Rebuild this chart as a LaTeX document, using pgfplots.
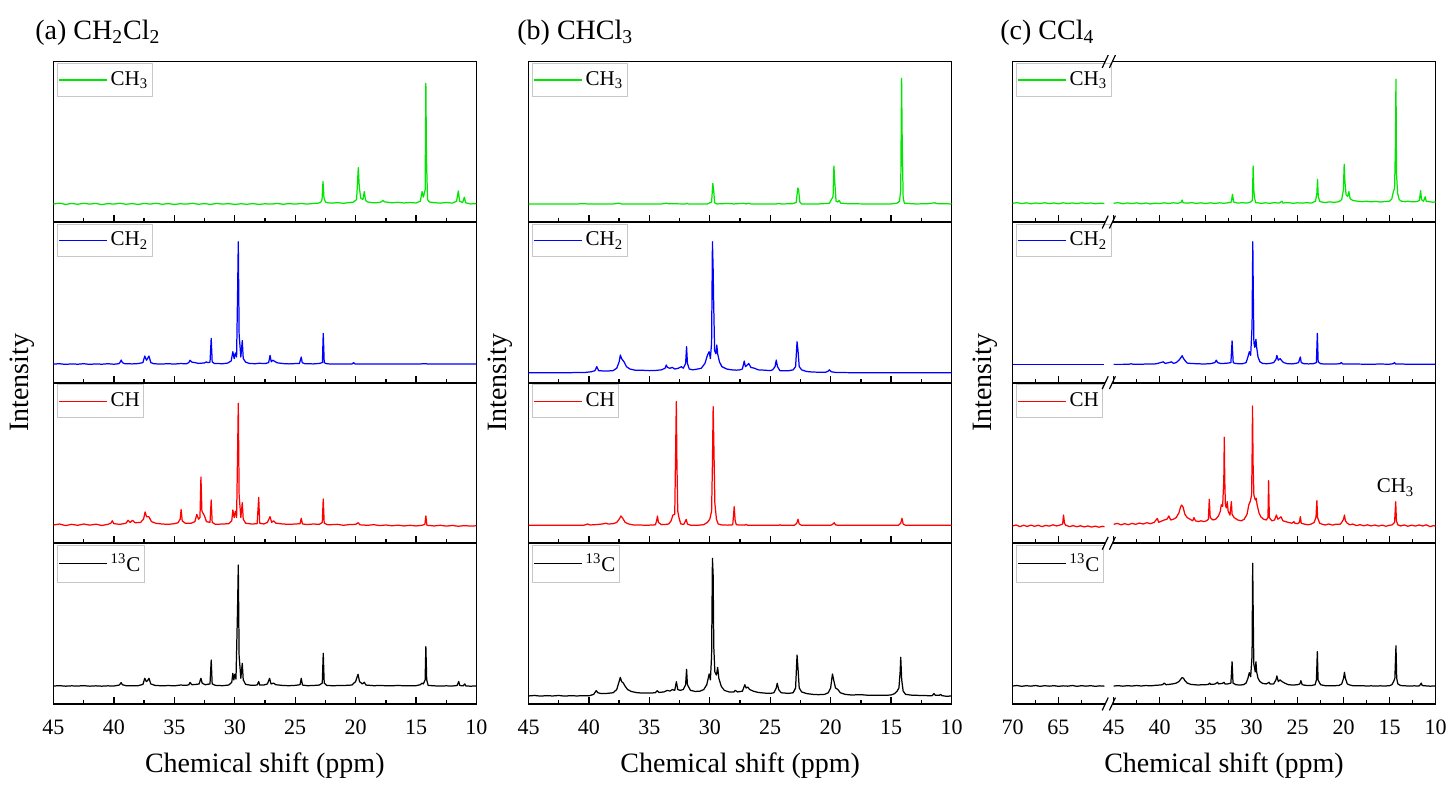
\documentclass[border=0pt]{standalone}
\usepackage{fontspec}
\setmainfont{Liberation Serif}
\usepackage{pgfplots}
\pgfplotsset{compat=1.18}
\definecolor{cgreen}{RGB}{0,230,0}
\definecolor{cblue}{RGB}{0,0,255}
\definecolor{cred}{RGB}{255,0,0}
\pgfplotsset{
  spec/.style={
    scale only axis, width=211.5pt, height=80.3pt, anchor=south west,
    xmin=10, xmax=45, x dir=reverse, ymin=0, ymax=1,
    ytick=\empty,
    axis line style={line width=0.9pt},
    xtick={10,15,20,25,30,35,40,45}, minor xtick={12.5,17.5,22.5,27.5,32.5,37.5,42.5},
    xtick pos=left, tick align=inside,
    major tick length=3.5pt, minor tick length=2pt,
    every tick/.style={black, line width=0.7pt},
    xticklabels={},
    legend style={at={(0,1)}, anchor=north west, xshift=1.75pt, yshift=-0.75pt,
      draw=black!22, line width=0.5pt, inner xsep=0.5pt, inner ysep=1.5pt,
      font=\fontsize{10.5}{12}\selectfont, nodes={inner xsep=1.5pt, inner ysep=2.5pt}},
    legend image code/.code={\draw[#1, line width=0.6pt] (0pt,0pt) -- (24pt,0pt);},
    every axis plot/.append style={line width=0.62pt, line join=round, mark=none},
  },
  specc/.style={spec, xmin=10, xmax=56,
    xtick={10,15,20,25,30,35,40,45,51,56},
    minor xtick={12.5,17.5,22.5,27.5,32.5,37.5,42.5,48.5,53.5}},
  bot/.style={xticklabels={10,15,20,25,30,35,40,45},
    xticklabel style={font=\fontsize{11}{13}\selectfont, yshift=-4.5pt}},
  botc/.style={xticklabels={10,15,20,25,30,35,40,45,65,70},
    xticklabel style={font=\fontsize{11}{13}\selectfont, yshift=-4.5pt}},
}
\begin{document}
\begin{tikzpicture}
\useasboundingbox (0,0) rectangle (725pt,392.5pt);
% ================= Panel (a) =================
\begin{axis}[spec, at={(26.75pt,281.45pt)}]
\addplot[cgreen] coordinates {(45,0.113)(44.5,0.118)(44,0.110)(43.5,0.116)(43,0.111)(42.5,0.117)(42,0.112)(41.5,0.116)(41,0.109)(40.5,0.115)(40,0.112)(39.5,0.117)(39,0.111)(38.5,0.115)(38,0.110)(37.5,0.116)(37,0.112)(36.5,0.117)(36,0.111)(35.5,0.115)(35,0.110)(34.5,0.114)(34,0.112)(33.5,0.117)(33,0.111)(32.5,0.115)(32,0.110)(31.5,0.116)(31,0.112)(30.5,0.115)(30,0.110)(29.5,0.114)(29,0.111)(28.5,0.115)(28,0.110)(27.5,0.114)(27,0.112)(26.5,0.116)(26,0.111)(25.5,0.115)(25,0.112)(24.5,0.116)(24,0.112)(23.5,0.116)(23.1,0.118)(22.9,0.122)(22.78,0.14)(22.7,0.252)(22.62,0.15)(22.5,0.125)(22.3,0.12)(22,0.118)(21.5,0.121)(21,0.117)(20.5,0.122)(20.2,0.124)(19.92,0.14)(19.78,0.339)(19.7,0.22)(19.58,0.15)(19.4,0.14)(19.28,0.19)(19.18,0.135)(19.0,0.125)(18.5,0.12)(18.0,0.122)(17.85,0.128)(17.75,0.135)(17.6,0.126)(17.0,0.12)(16.5,0.123)(16,0.119)(15.5,0.122)(15,0.119)(14.65,0.13)(14.5,0.19)(14.4,0.155)(14.25,0.2)(14.19,0.864)(14.14,0.4)(14.05,0.14)(13.9,0.125)(13.5,0.121)(13,0.118)(12.5,0.122)(12,0.118)(11.65,0.13)(11.5,0.194)(11.4,0.13)(11.15,0.122)(11.0,0.155)(10.9,0.12)(10.5,0.113)(10,0.115)};
\addlegendentry{CH\textsubscript{3}}
\end{axis}
\begin{axis}[spec, at={(26.75pt,201.15pt)}]
\addplot[cblue] coordinates {(45,0.116)(44.5,0.118)(44,0.114)(43.5,0.117)(43,0.115)(42.5,0.118)(42,0.114)(41.5,0.117)(41,0.115)(40.5,0.118)(40,0.115)(39.6,0.118)(39.48,0.128)(39.4,0.141)(39.3,0.125)(39.1,0.118)(38.5,0.117)(38,0.119)(37.6,0.125)(37.45,0.166)(37.3,0.14)(37.22,0.15)(37.1,0.166)(36.95,0.125)(36.7,0.118)(36.2,0.116)(35.5,0.118)(35,0.116)(34.5,0.119)(34,0.118)(33.8,0.125)(33.7,0.14)(33.55,0.128)(33.3,0.125)(33,0.12)(32.5,0.123)(32.35,0.13)(32.25,0.125)(32.05,0.127)(31.95,0.276)(31.87,0.13)(31.7,0.12)(31,0.118)(30.6,0.122)(30.3,0.135)(30.16,0.193)(30.05,0.15)(29.95,0.185)(29.85,0.16)(29.76,0.598)(29.71,0.878)(29.64,0.3)(29.5,0.16)(29.38,0.262)(29.3,0.15)(29.1,0.128)(28.8,0.12)(28.3,0.118)(28,0.121)(27.5,0.119)(27.2,0.125)(27.08,0.17)(26.98,0.13)(26.85,0.14)(26.75,0.135)(26.5,0.124)(26,0.119)(25.5,0.117)(25,0.119)(24.65,0.12)(24.5,0.16)(24.42,0.125)(24.2,0.118)(23.5,0.117)(23,0.12)(22.75,0.125)(22.68,0.307)(22.6,0.125)(22.4,0.118)(22,0.116)(21,0.117)(20.3,0.116)(20.17,0.125)(20.05,0.117)(19,0.116)(18,0.117)(17,0.116)(16,0.117)(15,0.116)(14.2,0.118)(14,0.116)(13,0.117)(12,0.116)(11,0.117)(10,0.116)};
\addlegendentry{CH\textsubscript{2}}
\end{axis}
\begin{axis}[spec, at={(26.75pt,120.85pt)}]
\addplot[cred] coordinates {(45,0.114)(44.5,0.12)(44,0.11)(43.5,0.118)(43,0.112)(42.5,0.12)(42,0.113)(41.5,0.119)(41,0.111)(40.5,0.118)(40.25,0.125)(40.14,0.14)(40.0,0.122)(39.5,0.118)(39,0.125)(38.83,0.143)(38.65,0.13)(38.47,0.143)(38.25,0.128)(37.8,0.13)(37.55,0.15)(37.42,0.195)(37.3,0.165)(37.11,0.166)(36.9,0.135)(36.5,0.124)(36,0.12)(35.5,0.118)(35,0.122)(34.7,0.128)(34.52,0.15)(34.44,0.21)(34.35,0.14)(34.1,0.125)(33.6,0.125)(33.3,0.135)(33.14,0.18)(33.0,0.15)(32.88,0.16)(32.8,0.413)(32.72,0.2)(32.5,0.17)(32.35,0.135)(32.05,0.13)(31.95,0.27)(31.87,0.13)(31.6,0.118)(31,0.12)(30.5,0.122)(30.25,0.14)(30.16,0.207)(30.05,0.16)(29.95,0.2)(29.85,0.16)(29.76,0.6)(29.71,0.872)(29.64,0.3)(29.5,0.16)(29.38,0.253)(29.3,0.15)(29.1,0.125)(28.6,0.12)(28.15,0.122)(28.02,0.286)(27.94,0.125)(27.6,0.12)(27.3,0.13)(27.08,0.166)(26.95,0.13)(26.8,0.14)(26.6,0.125)(26,0.12)(25.5,0.118)(25,0.12)(24.6,0.122)(24.5,0.156)(24.4,0.12)(24,0.117)(23.5,0.12)(23,0.118)(22.76,0.13)(22.68,0.276)(22.6,0.125)(22.3,0.115)(21.5,0.118)(21,0.112)(20.5,0.117)(20,0.118)(19.78,0.128)(19.65,0.115)(19,0.112)(18.5,0.116)(18,0.11)(17.5,0.114)(17,0.109)(16.5,0.113)(16,0.108)(15.5,0.112)(15,0.108)(14.5,0.112)(14.27,0.118)(14.19,0.17)(14.1,0.112)(13.5,0.108)(13,0.112)(12.5,0.107)(12,0.111)(11.5,0.106)(11,0.11)(10.5,0.107)(10,0.109)};
\addlegendentry{CH}
\end{axis}
\begin{axis}[spec, bot, at={(26.75pt,40.5pt)}]
\addplot[black] coordinates {(45,0.112)(44.5,0.114)(44,0.111)(43.5,0.113)(43,0.112)(42.5,0.114)(42,0.111)(41.5,0.113)(41,0.111)(40.5,0.113)(40,0.112)(39.55,0.118)(39.4,0.133)(39.3,0.12)(39,0.114)(38.5,0.113)(38,0.114)(37.6,0.122)(37.45,0.16)(37.32,0.14)(37.22,0.145)(37.1,0.16)(36.95,0.125)(36.6,0.116)(36,0.113)(35.5,0.115)(35,0.113)(34.5,0.118)(34,0.116)(33.8,0.12)(33.7,0.134)(33.55,0.12)(33.2,0.122)(32.95,0.125)(32.8,0.16)(32.7,0.13)(32.45,0.12)(32.05,0.125)(31.95,0.274)(31.87,0.125)(31.6,0.116)(31,0.114)(30.5,0.118)(30.25,0.135)(30.16,0.191)(30.08,0.15)(30.0,0.185)(29.9,0.155)(29.77,0.596)(29.71,0.866)(29.64,0.3)(29.5,0.16)(29.38,0.253)(29.3,0.15)(29.1,0.122)(28.6,0.116)(28.15,0.118)(28.02,0.14)(27.94,0.118)(27.6,0.118)(27.3,0.125)(27.12,0.16)(27.0,0.125)(26.8,0.13)(26.6,0.12)(26,0.115)(25.5,0.114)(25,0.116)(24.6,0.12)(24.5,0.16)(24.4,0.118)(24,0.114)(23.5,0.115)(23,0.118)(22.76,0.13)(22.68,0.316)(22.6,0.13)(22.4,0.116)(22,0.114)(21,0.115)(20.3,0.118)(20.0,0.14)(19.8,0.185)(19.68,0.14)(19.45,0.125)(19.28,0.135)(19.15,0.118)(18.5,0.114)(18,0.115)(17,0.113)(16.5,0.116)(16,0.113)(15,0.114)(14.65,0.12)(14.5,0.13)(14.4,0.125)(14.25,0.15)(14.19,0.357)(14.12,0.15)(14.0,0.116)(13.5,0.113)(13,0.112)(12.5,0.113)(12,0.112)(11.6,0.115)(11.47,0.14)(11.38,0.115)(11.1,0.113)(10.97,0.125)(10.88,0.112)(10.5,0.111)(10,0.112)};
\addlegendentry{\textsuperscript{13}C}
\end{axis}
% ================= Panel (b) =================
\begin{axis}[spec, at={(264.25pt,281.45pt)}]
\addplot[cgreen] coordinates {(45,0.113)(41,0.113)(40.5,0.114)(40,0.113)(38,0.113)(37.5,0.118)(37.3,0.113)(36,0.113)(34,0.113)(33.6,0.118)(33.4,0.114)(32,0.113)(31.9,0.118)(31.8,0.113)(30.2,0.113)(29.85,0.125)(29.75,0.241)(29.68,0.2)(29.6,0.12)(29.4,0.113)(28.5,0.116)(28,0.113)(27.2,0.117)(27,0.113)(26.8,0.117)(26.6,0.113)(24.5,0.113)(24.3,0.116)(24.1,0.113)(23.2,0.114)(22.85,0.122)(22.72,0.212)(22.65,0.2)(22.55,0.125)(22.4,0.113)(21,0.113)(20.1,0.117)(19.8,0.16)(19.73,0.349)(19.66,0.25)(19.55,0.13)(19.4,0.125)(19.3,0.135)(19.18,0.118)(18.5,0.114)(17,0.113)(15,0.113)(14.5,0.118)(14.3,0.13)(14.2,0.2)(14.13,0.895)(14.08,0.5)(14.0,0.15)(13.9,0.118)(13.6,0.116)(13,0.113)(12,0.114)(11.4,0.12)(11.2,0.115)(10,0.113)};
\addlegendentry{CH\textsubscript{3}}
\end{axis}
\begin{axis}[spec, at={(264.25pt,201.15pt)}]
\addplot[cblue] coordinates {(45,0.062)(42,0.062)(41,0.063)(40.3,0.064)(39.8,0.068)(39.5,0.075)(39.35,0.1)(39.2,0.075)(38.6,0.072)(38,0.075)(37.7,0.09)(37.5,0.13)(37.4,0.172)(37.3,0.15)(37.2,0.14)(37.1,0.13)(36.9,0.1)(36.6,0.085)(36.2,0.078)(35.5,0.077)(35,0.075)(34.5,0.076)(34,0.08)(33.7,0.09)(33.6,0.11)(33.5,0.095)(33.3,0.09)(33.1,0.095)(32.9,0.085)(32.6,0.09)(32.35,0.1)(32.2,0.09)(32.0,0.12)(31.92,0.224)(31.85,0.12)(31.7,0.085)(31.4,0.08)(31,0.085)(30.7,0.09)(30.4,0.12)(30.2,0.17)(30.05,0.193)(29.95,0.15)(29.85,0.25)(29.78,0.878)(29.72,0.7)(29.68,0.5)(29.6,0.2)(29.5,0.18)(29.42,0.235)(29.35,0.18)(29.2,0.13)(29,0.1)(28.6,0.085)(28.2,0.08)(27.8,0.078)(27.5,0.08)(27.3,0.085)(27.15,0.135)(27.05,0.1)(26.9,0.11)(26.78,0.12)(26.6,0.095)(26.3,0.09)(26,0.08)(25.5,0.078)(25,0.075)(24.8,0.08)(24.6,0.1)(24.5,0.141)(24.4,0.1)(24.2,0.075)(23.5,0.074)(23.1,0.08)(22.9,0.1)(22.78,0.255)(22.7,0.2)(22.6,0.1)(22.4,0.08)(22,0.07)(21.5,0.066)(20.4,0.065)(20.2,0.072)(20.1,0.08)(19.95,0.068)(19.5,0.063)(17,0.062)(14,0.062)(10,0.062)};
\addlegendentry{CH\textsubscript{2}}
\end{axis}
\begin{axis}[spec, at={(264.25pt,120.85pt)}]
\addplot[cred] coordinates {(45,0.112)(41,0.112)(40.4,0.113)(40.1,0.12)(39.9,0.114)(39.3,0.117)(38.9,0.12)(38.6,0.125)(38.4,0.12)(38,0.122)(37.7,0.13)(37.5,0.15)(37.35,0.17)(37.2,0.155)(37.0,0.13)(36.7,0.12)(36.3,0.114)(35.5,0.113)(35,0.113)(34.5,0.115)(34.4,0.14)(34.33,0.17)(34.25,0.13)(34.0,0.116)(33.6,0.118)(33.4,0.12)(33.2,0.14)(33.05,0.176)(32.9,0.18)(32.82,0.6)(32.77,0.882)(32.72,0.5)(32.65,0.2)(32.55,0.16)(32.4,0.12)(32.15,0.118)(31.95,0.149)(31.85,0.12)(31.6,0.113)(31,0.112)(30.5,0.116)(30.2,0.13)(30.0,0.15)(29.85,0.2)(29.78,0.5)(29.72,0.851)(29.66,0.6)(29.58,0.25)(29.45,0.15)(29.3,0.12)(29,0.114)(28.5,0.113)(28.1,0.115)(27.98,0.228)(27.9,0.14)(27.8,0.115)(27.1,0.113)(27.0,0.118)(26.9,0.113)(25,0.112)(24.3,0.112)(24.2,0.115)(24.1,0.112)(23,0.112)(22.8,0.125)(22.7,0.15)(22.6,0.12)(22.4,0.112)(20,0.112)(19.8,0.12)(19.7,0.128)(19.6,0.115)(19.4,0.112)(14.4,0.112)(14.2,0.125)(14.1,0.156)(14.0,0.12)(13.8,0.112)(10,0.112)};
\addlegendentry{CH}
\end{axis}
\begin{axis}[spec, bot, at={(264.25pt,40.5pt)}]
\addplot[black] coordinates {(45,0.05)(44.5,0.053)(44,0.049)(43.5,0.052)(43,0.05)(42.5,0.053)(42,0.049)(41.5,0.052)(41,0.05)(40.5,0.052)(40,0.051)(39.6,0.06)(39.4,0.083)(39.25,0.07)(39,0.065)(38.5,0.066)(38,0.07)(37.7,0.09)(37.5,0.14)(37.4,0.166)(37.3,0.14)(37.15,0.13)(37.0,0.11)(36.8,0.09)(36.5,0.078)(36,0.07)(35.5,0.068)(35,0.068)(34.5,0.07)(34.35,0.083)(34.2,0.072)(33.8,0.075)(33.5,0.085)(33.3,0.08)(33.1,0.09)(32.9,0.085)(32.76,0.139)(32.65,0.09)(32.45,0.085)(32.2,0.09)(32.0,0.12)(31.92,0.216)(31.85,0.12)(31.6,0.085)(31.2,0.078)(30.8,0.08)(30.5,0.09)(30.25,0.12)(30.05,0.187)(29.95,0.15)(29.85,0.3)(29.78,0.907)(29.72,0.8)(29.67,0.357)(29.58,0.2)(29.45,0.18)(29.35,0.228)(29.25,0.16)(29.05,0.11)(28.8,0.085)(28.4,0.075)(28.0,0.075)(27.9,0.085)(27.7,0.075)(27.3,0.08)(27.1,0.12)(27.0,0.1)(26.85,0.105)(26.7,0.09)(26.4,0.08)(26,0.072)(25.5,0.068)(25,0.066)(24.7,0.07)(24.5,0.1)(24.42,0.129)(24.3,0.09)(24.1,0.07)(23.5,0.066)(23.1,0.07)(22.9,0.1)(22.78,0.305)(22.7,0.22)(22.6,0.1)(22.4,0.075)(22,0.065)(21.5,0.06)(21,0.058)(20.5,0.06)(20.2,0.07)(20,0.1)(19.85,0.187)(19.75,0.15)(19.6,0.1)(19.4,0.09)(19.2,0.07)(18.8,0.06)(18.3,0.056)(17.5,0.058)(17,0.055)(16.5,0.054)(16,0.055)(15.5,0.054)(15,0.056)(14.7,0.065)(14.5,0.08)(14.35,0.1)(14.25,0.2)(14.2,0.291)(14.12,0.15)(14.0,0.08)(13.8,0.06)(13.3,0.055)(12.5,0.053)(12,0.052)(11.6,0.052)(11.45,0.065)(11.35,0.055)(11.0,0.054)(10.9,0.06)(10.8,0.052)(10.4,0.048)(10,0.05)};
\addlegendentry{\textsuperscript{13}C}
\end{axis}
% ================= Panel (c) =================
\begin{axis}[specc, at={(506.25pt,281.45pt)}]
\addplot[cgreen] coordinates {(45,0.117)(44.5,0.121)(44,0.114)(43.5,0.119)(43,0.115)(42.5,0.12)(42,0.114)(41.5,0.119)(41,0.113)(40.5,0.118)(40,0.115)(39.5,0.12)(39,0.116)(38.5,0.12)(38,0.117)(37.7,0.122)(37.55,0.137)(37.45,0.12)(37,0.118)(36.5,0.121)(36,0.116)(35.5,0.12)(35,0.115)(34.5,0.12)(34,0.116)(33.5,0.12)(33,0.117)(32.5,0.121)(32.2,0.125)(32.08,0.173)(31.95,0.125)(31.5,0.118)(31,0.121)(30.5,0.118)(30.1,0.125)(29.92,0.135)(29.83,0.349)(29.76,0.2)(29.68,0.15)(29.55,0.12)(29.3,0.12)(29,0.116)(28.5,0.12)(28,0.117)(27.5,0.121)(27,0.118)(26.7,0.13)(26.6,0.119)(26,0.121)(25.5,0.117)(25,0.12)(24.5,0.118)(24,0.121)(23.5,0.118)(23.05,0.13)(22.9,0.18)(22.83,0.266)(22.75,0.16)(22.6,0.13)(22.4,0.125)(22,0.122)(21.5,0.126)(21,0.123)(20.5,0.127)(20.2,0.14)(20.02,0.2)(19.93,0.36)(19.85,0.25)(19.72,0.17)(19.55,0.16)(19.42,0.19)(19.28,0.145)(19.0,0.135)(18.5,0.13)(18,0.127)(17.5,0.13)(17,0.126)(16.5,0.129)(16,0.125)(15.5,0.128)(15,0.13)(14.75,0.145)(14.58,0.19)(14.45,0.21)(14.36,0.474)(14.3,0.889)(14.24,0.3)(14.12,0.18)(13.95,0.14)(13.7,0.13)(13.3,0.127)(13,0.13)(12.5,0.126)(12,0.128)(11.75,0.135)(11.62,0.196)(11.52,0.14)(11.3,0.13)(11.12,0.158)(11.02,0.13)(10.7,0.127)(10.3,0.124)(10,0.125)};
\addlegendentry{CH\textsubscript{3}}
\addplot[cgreen, forget plot, x filter/.expression={x-14}] coordinates {(70,0.117)(69.5,0.121)(69,0.115)(68.5,0.12)(68,0.114)(67.5,0.119)(67,0.116)(66.5,0.12)(66,0.115)(65.5,0.119)(65,0.114)(64.5,0.12)(64,0.116)(63.5,0.119)(63,0.115)(62.5,0.12)(62,0.116)(61.5,0.119)(61,0.114)(60.5,0.118)(60,0.116)};
\end{axis}
\begin{axis}[specc, at={(506.25pt,201.15pt)}]
\addplot[cblue] coordinates {(45,0.114)(44,0.114)(43.3,0.115)(43.1,0.118)(42.9,0.115)(42,0.115)(41.5,0.116)(41,0.116)(40.5,0.117)(40.2,0.12)(39.6,0.13)(39.4,0.12)(39.0,0.125)(38.7,0.13)(38.5,0.12)(38.2,0.125)(37.9,0.14)(37.7,0.155)(37.55,0.168)(37.4,0.15)(37.2,0.135)(37.0,0.122)(36.6,0.12)(36,0.118)(35.5,0.117)(35,0.117)(34.5,0.118)(34.0,0.125)(33.84,0.14)(33.7,0.125)(33.4,0.12)(33.0,0.12)(32.6,0.122)(32.25,0.125)(32.12,0.26)(32.0,0.125)(31.8,0.12)(31.4,0.118)(31,0.118)(30.6,0.125)(30.4,0.16)(30.25,0.193)(30.1,0.17)(29.95,0.35)(29.87,0.878)(29.82,0.588)(29.75,0.25)(29.65,0.22)(29.53,0.27)(29.45,0.22)(29.3,0.16)(29.1,0.13)(28.8,0.12)(28.4,0.118)(28,0.12)(27.6,0.125)(27.35,0.145)(27.25,0.17)(27.1,0.14)(26.9,0.15)(26.7,0.135)(26.5,0.125)(26.1,0.118)(25.6,0.117)(25.2,0.12)(24.9,0.125)(24.7,0.16)(24.6,0.125)(24.3,0.118)(23.8,0.117)(23.3,0.118)(22.95,0.125)(22.85,0.307)(22.76,0.13)(22.5,0.118)(22,0.116)(21,0.116)(20.4,0.118)(20.25,0.125)(20.1,0.117)(19,0.116)(17,0.115)(16,0.116)(15,0.115)(14.6,0.118)(14.46,0.125)(14.35,0.117)(13,0.115)(11,0.115)(10,0.114)};
\addlegendentry{CH\textsubscript{2}}
\addplot[cblue, forget plot, x filter/.expression={x-14}] coordinates {(70,0.114)(65,0.114)(60,0.114)};
\end{axis}
\begin{axis}[specc, at={(506.25pt,120.85pt)}]
\addplot[cred] coordinates {(45,0.118)(44.6,0.124)(44.2,0.115)(43.8,0.122)(43.4,0.116)(43,0.124)(42.6,0.118)(42.2,0.126)(41.8,0.12)(41.4,0.128)(41,0.122)(40.6,0.13)(40.25,0.155)(40.1,0.13)(39.8,0.138)(39.5,0.145)(39.2,0.15)(39.0,0.17)(38.8,0.145)(38.5,0.15)(38.2,0.16)(37.9,0.19)(37.7,0.23)(37.6,0.238)(37.45,0.225)(37.25,0.18)(37.0,0.16)(36.7,0.15)(36.4,0.14)(36.27,0.16)(36.1,0.14)(35.8,0.135)(35.5,0.14)(35.2,0.135)(34.9,0.14)(34.7,0.15)(34.6,0.274)(34.5,0.16)(34.2,0.145)(33.9,0.15)(33.6,0.17)(33.4,0.2)(33.3,0.24)(33.15,0.23)(33.02,0.4)(32.97,0.66)(32.92,0.4)(32.85,0.24)(32.75,0.22)(32.65,0.26)(32.55,0.2)(32.35,0.175)(32.2,0.259)(32.12,0.18)(31.9,0.16)(31.5,0.145)(31.1,0.14)(30.8,0.15)(30.5,0.18)(30.3,0.24)(30.15,0.26)(30.0,0.3)(29.95,0.508)(29.9,0.855)(29.84,0.5)(29.75,0.3)(29.6,0.27)(29.5,0.28)(29.4,0.24)(29.2,0.19)(29.0,0.165)(28.7,0.15)(28.4,0.145)(28.22,0.16)(28.15,0.39)(28.07,0.16)(27.8,0.14)(27.5,0.145)(27.3,0.176)(27.15,0.15)(26.9,0.16)(26.8,0.165)(26.6,0.14)(26.3,0.135)(26.0,0.13)(25.6,0.125)(25.4,0.135)(25.3,0.125)(25.0,0.122)(24.8,0.13)(24.7,0.166)(24.6,0.125)(24.3,0.12)(23.9,0.115)(23.5,0.12)(23.2,0.13)(23.0,0.16)(22.9,0.265)(22.82,0.16)(22.6,0.125)(22.3,0.118)(22,0.114)(21.6,0.12)(21.2,0.113)(20.8,0.119)(20.4,0.118)(20.2,0.13)(20.0,0.15)(19.9,0.176)(19.8,0.14)(19.6,0.125)(19.3,0.115)(19,0.12)(18.6,0.11)(18.2,0.116)(17.8,0.109)(17.4,0.115)(17,0.108)(16.6,0.114)(16.2,0.107)(15.8,0.113)(15.4,0.106)(15,0.112)(14.7,0.115)(14.45,0.13)(14.33,0.259)(14.25,0.14)(14.1,0.115)(13.8,0.108)(13.4,0.114)(13,0.106)(12.6,0.113)(12.2,0.107)(11.8,0.114)(11.4,0.108)(11,0.115)(10.6,0.104)(10.2,0.11)(10,0.106)};
\addlegendentry{CH}
\addplot[cred, forget plot, x filter/.expression={x-14}] coordinates {(70,0.108)(69.6,0.114)(69.2,0.104)(68.8,0.112)(68.4,0.105)(68,0.113)(67.6,0.106)(67.2,0.112)(66.8,0.104)(66.4,0.111)(66,0.107)(65.6,0.115)(65.2,0.108)(64.8,0.114)(64.55,0.12)(64.45,0.176)(64.35,0.125)(64.2,0.112)(63.8,0.104)(63.4,0.11)(63,0.103)(62.6,0.109)(62.2,0.102)(61.8,0.108)(61.4,0.101)(61,0.107)(60.6,0.1)(60.2,0.106)(60,0.103)};
\node[anchor=base west, inner sep=0pt, font=\fontsize{10.5}{12}\selectfont] at (axis cs:16.43,0.314) {CH\textsubscript{3}};
\end{axis}
\begin{axis}[specc, botc, at={(506.25pt,40.5pt)}]
\addplot[black] coordinates {(45,0.112)(44.5,0.114)(44,0.111)(43.5,0.114)(43,0.112)(42.5,0.115)(42,0.112)(41.5,0.115)(41,0.113)(40.5,0.116)(40,0.118)(39.7,0.12)(39.5,0.13)(39.3,0.12)(39,0.122)(38.6,0.125)(38.2,0.13)(37.9,0.14)(37.7,0.155)(37.55,0.164)(37.4,0.16)(37.25,0.145)(37,0.13)(36.6,0.122)(36.2,0.12)(35.8,0.118)(35.4,0.12)(35,0.12)(34.7,0.122)(34.57,0.13)(34.45,0.122)(34.0,0.124)(33.7,0.135)(33.6,0.125)(33.2,0.128)(33.0,0.135)(32.9,0.125)(32.6,0.125)(32.25,0.13)(32.12,0.263)(32.02,0.13)(31.7,0.12)(31.3,0.118)(30.9,0.12)(30.6,0.13)(30.4,0.16)(30.25,0.195)(30.1,0.17)(29.95,0.3)(29.88,0.876)(29.83,0.596)(29.76,0.25)(29.6,0.2)(29.53,0.263)(29.45,0.2)(29.3,0.16)(29.1,0.14)(28.8,0.128)(28.4,0.125)(28.1,0.135)(28.0,0.125)(27.6,0.125)(27.35,0.15)(27.25,0.175)(27.1,0.14)(26.9,0.15)(26.7,0.14)(26.4,0.13)(26,0.12)(25.5,0.118)(25,0.12)(24.75,0.125)(24.64,0.145)(24.5,0.12)(24.1,0.116)(23.5,0.115)(23.1,0.12)(22.95,0.15)(22.85,0.326)(22.77,0.15)(22.5,0.12)(22,0.114)(21.5,0.113)(21,0.114)(20.5,0.115)(20.2,0.125)(20.0,0.16)(19.9,0.197)(19.8,0.16)(19.6,0.125)(19.3,0.118)(19,0.114)(18.5,0.113)(18,0.114)(17.5,0.112)(17,0.113)(16.5,0.112)(16,0.113)(15.5,0.112)(15,0.114)(14.75,0.12)(14.55,0.14)(14.42,0.16)(14.3,0.363)(14.22,0.16)(14.1,0.125)(13.8,0.115)(13.3,0.113)(12.8,0.112)(12.3,0.113)(11.8,0.112)(11.65,0.12)(11.56,0.13)(11.45,0.115)(11.1,0.113)(10.6,0.111)(10,0.112)};
\addlegendentry{\textsuperscript{13}C}
\addplot[black, forget plot, x filter/.expression={x-14}] coordinates {(70,0.112)(69.5,0.115)(69,0.11)(68.5,0.114)(68,0.111)(67.5,0.115)(67,0.11)(66.5,0.114)(66,0.111)(65.5,0.114)(65,0.11)(64.5,0.113)(64,0.111)(63.5,0.115)(63,0.11)(62.5,0.114)(62,0.111)(61.5,0.114)(61,0.11)(60.5,0.113)(60,0.111)};
\end{axis}
% ---- axis breaks in panel (c) ----
\foreach \yy in {40.5,120.85,201.15,281.45,361.75}{
  \fill[white] (552.6pt,\yy pt-0.7pt) rectangle (556.2pt,\yy pt+0.7pt);
  \draw[line width=0.6pt] (551.1pt,\yy pt-3.2pt) -- (554.1pt,\yy pt+3.2pt);
  \draw[line width=0.6pt] (554.7pt,\yy pt-3.2pt) -- (557.7pt,\yy pt+3.2pt);
}
% ---- titles and labels ----
\node[anchor=base west, inner sep=0pt, font=\fontsize{14}{16}\selectfont] at (17.5pt,372.75pt) {(a) CH\textsubscript{2}Cl\textsubscript{2}};
\node[anchor=base west, inner sep=0pt, font=\fontsize{14}{16}\selectfont] at (258.5pt,372.75pt) {(b) CHCl\textsubscript{3}};
\node[anchor=base west, inner sep=0pt, font=\fontsize{14}{16}\selectfont] at (500pt,372.75pt) {(c) CCl\textsubscript{4}};
\node[anchor=base, inner sep=0pt, font=\fontsize{14}{16}\selectfont] at (132.4pt,6pt) {Chemical shift (ppm)};
\node[anchor=base, inner sep=0pt, font=\fontsize{14}{16}\selectfont] at (370.1pt,6pt) {Chemical shift (ppm)};
\node[anchor=base, inner sep=0pt, font=\fontsize{14}{16}\selectfont] at (612pt,6pt) {Chemical shift (ppm)};
\node[rotate=90, anchor=center, inner sep=0pt, font=\fontsize{14}{16}\selectfont] at (11pt,201pt) {Intensity};
\node[rotate=90, anchor=center, inner sep=0pt, font=\fontsize{14}{16}\selectfont] at (250pt,201pt) {Intensity};
\node[rotate=90, anchor=center, inner sep=0pt, font=\fontsize{14}{16}\selectfont] at (492.5pt,201pt) {Intensity};
\end{tikzpicture}
\end{document}
